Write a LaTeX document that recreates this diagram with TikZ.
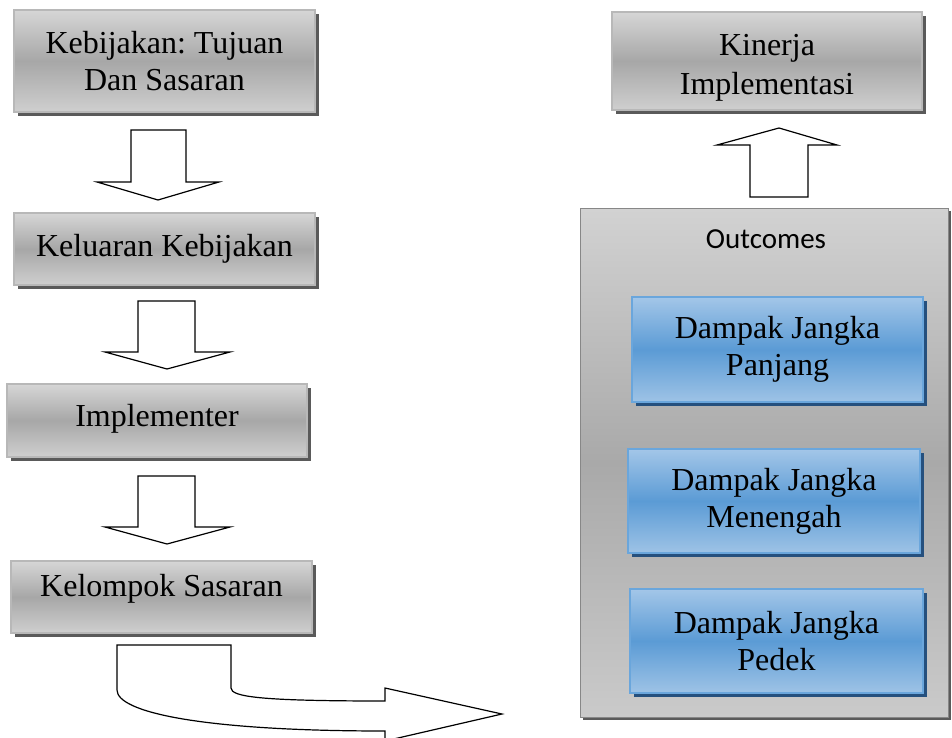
\documentclass[tikz,border=0pt]{standalone}
\usepackage{fontspec}
\setmainfont{Liberation Serif}
\newfontfamily\calfont{Carlito}
\usetikzlibrary{shadows}
\frenchspacing
\definecolor{gtop}{HTML}{D6D6D6}
\definecolor{gmid}{HTML}{A7A7A7}
\definecolor{gbot}{HTML}{CFCFCF}
\definecolor{gedge}{HTML}{B8B8B8}
\definecolor{gshadow}{HTML}{5A5A5A}
\definecolor{btop}{HTML}{A3C6E8}
\definecolor{bmid}{HTML}{5B9BD5}
\definecolor{bbot}{HTML}{9EC3E6}
\definecolor{bedge}{HTML}{6AA6DC}
\definecolor{bshadow}{HTML}{25507E}
\definecolor{ctop}{HTML}{D2D2D2}
\definecolor{cmid}{HTML}{A9A9A9}
\definecolor{cbot}{HTML}{CACACA}
\tikzset{
  boxtext/.style={align=center, inner sep=0pt, font=\fontsize{32}{37}\selectfont},
  graybox/.style={draw=gedge, line width=1.2pt, top color=gtop, bottom color=gbot, middle color=gmid,
    boxtext,
    drop shadow={shadow xshift=4pt, shadow yshift=-4pt, fill=gshadow, opacity=1}},
  bluebox/.style={draw=bedge, line width=1.2pt, top color=btop, bottom color=bbot, middle color=bmid,
    boxtext,
    drop shadow={shadow xshift=4pt, shadow yshift=-4pt, fill=bshadow, opacity=1}},
  container/.style={draw=cmid!80!black, line width=1pt, top color=ctop, bottom color=cbot, middle color=cmid,
    inner sep=0pt,
    drop shadow={shadow xshift=3pt, shadow yshift=-3pt, fill=gshadow, opacity=1}},
  blockarrow/.style={draw=black, line width=1.2pt, fill=white, line join=miter},
}
\begin{document}
\begin{tikzpicture}[x=1pt, y=-1pt]
\useasboundingbox (0,0) rectangle (952,738);
\fill[white] (0,0) rectangle (952,738);
\begin{scope}
\clip (0,0) rectangle (952,738);
% left column
\node[graybox, minimum width=301pt, minimum height=102pt] (kb) at (164.5,61) {Kebijakan: Tujuan\\Dan Sasaran};
\node[graybox, minimum width=301pt, minimum height=72pt] (kk) at (164.5,249) {Keluaran Kebijakan};
\node[graybox, minimum width=300pt, minimum height=73pt] (im) at (157,420.5) {};
\node[boxtext] (imt) at ([yshift=2pt]im.center) {Implementer};
\node[graybox, minimum width=301pt, minimum height=72pt] (ks) at (161.5,597) {};
\node[boxtext] (kst) at ([yshift=8pt]ks.center) {Kelompok Sasaran};
% down arrows
\draw[blockarrow] (131,130) -- (186,130) -- (186,182) -- (219,182) -- (158,200) -- (97,182) -- (131,182) -- cycle;
\draw[blockarrow] (138,301) -- (195,301) -- (195,352) -- (230,352) -- (167,369) -- (105,352) -- (138,352) -- cycle;
\draw[blockarrow] (138,476) -- (195,476) -- (195,527) -- (230,527) -- (167,544) -- (105,527) -- (138,527) -- cycle;
% curved arrow
\draw[blockarrow] (117,645) -- (231,645) -- (231,688)
  .. controls (231,697) and (262,701) .. (385,701) -- (385,688) -- (502,714) -- (385,741) -- (385,731)
  .. controls (200,731) and (117,712) .. (117,690) -- cycle;
% right column
\node[container, minimum width=368pt, minimum height=509pt] (oc) at (764,462.5) {};
\node[font=\calfont\fontsize{29}{34}\selectfont, anchor=center] (ot) at (766,239) {Outcomes};
\node[graybox, minimum width=310pt, minimum height=98pt] (ki) at (767,61) {};
\node[boxtext] (kit) at ([yshift=-7pt]ki.center) {Kinerja\\[2pt]Implementasi};
\draw[blockarrow] (750,197) -- (808,197) -- (808,145) -- (837,145) -- (779,128) -- (717,145) -- (750,145) -- cycle;
\node[bluebox, minimum width=291pt, minimum height=105pt] (d1) at (777.5,349.5) {Dampak Jangka\\Panjang};
\node[bluebox, minimum width=292pt, minimum height=104pt] (d2) at (774,501) {Dampak Jangka\\Menengah};
\node[bluebox, minimum width=293pt, minimum height=104pt] (d3) at (776.5,641) {Dampak Jangka\\Pedek};
\end{scope}
\end{tikzpicture}
\end{document}
